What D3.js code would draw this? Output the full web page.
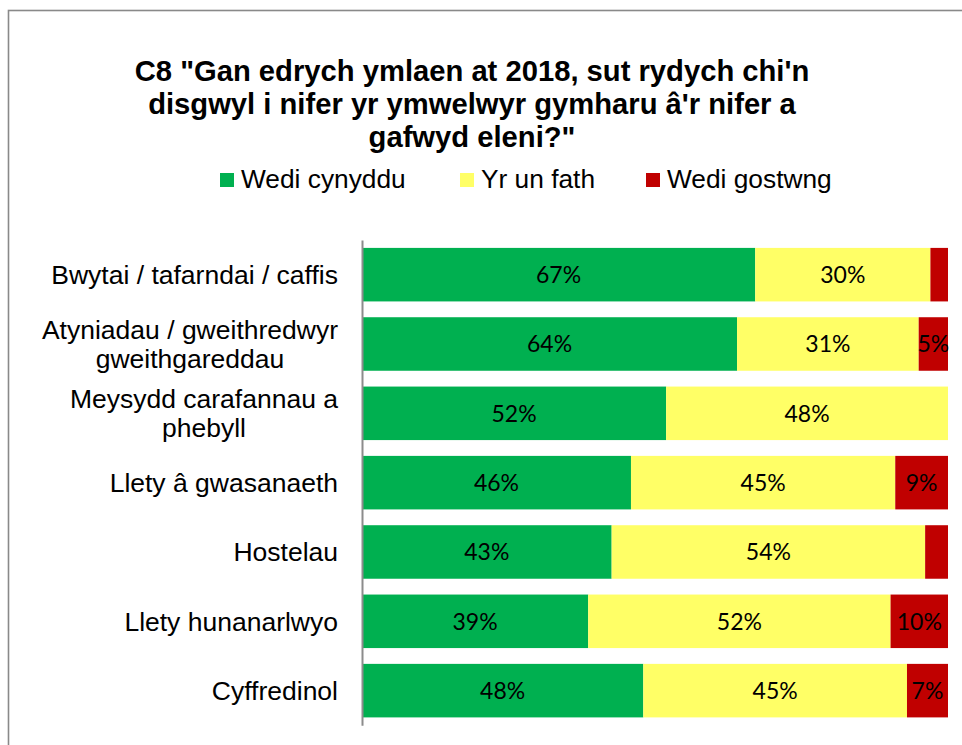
<!DOCTYPE html>
<html>
<head>
<meta charset="utf-8">
<script src="https://cdn.jsdelivr.net/npm/d3@7"></script>
<style>
  html, body { margin: 0; padding: 0; background: #fff; }
  svg { display: block; }
</style>
</head>
<body>
<svg id="chart" width="962" height="745"></svg>
<script>
// ---- data ----
const titleLines = ["C8 \"Gan edrych ymlaen at 2018, sut rydych chi'n",
                    "disgwyl i nifer yr ymwelwyr gymharu â'r nifer a",
                    "gafwyd eleni?\""];
const categories = [
  "Bwytai / tafarndai / caffis",
  "Atyniadau / gweithredwyr\ngweithgareddau",
  "Meysydd carafannau a\nphebyll",
  "Llety â gwasanaeth",
  "Hostelau",
  "Llety hunanarlwyo",
  "Cyffredinol"
];
const seriesNames = ["Wedi cynyddu", "Yr un fath", "Wedi gostwng"];
const increased = [67.1, 64.0, 51.9, 45.9, 42.6, 38.6, 48.0];
const same      = [29.9, 31.0, 48.1, 45.1, 53.5, 51.6, 45.0];
const decreased = [3.0, 5.0, 0, 9.0, 3.9, 9.8, 7.0];
const colors = ["#00B050", "#FFFF66", "#C00000"];

// ---- build table ----
const rows = categories.map((c, i) => ({
  cat: c, "Wedi cynyddu": increased[i], "Yr un fath": same[i], "Wedi gostwng": decreased[i]
}));
const stack = d3.stack().keys(seriesNames)(rows);

const svg = d3.select("#chart");

// chart border
svg.append("rect")
  .attr("x", 8.5).attr("y", 10.5).attr("width", 970).attr("height", 760)
  .attr("fill", "#fff").attr("stroke", "#898989").attr("stroke-width", 1.6);

// scales
const x = d3.scaleLinear().domain([0, 100]).range([362, 948]);
const y = d3.scaleBand().domain(categories).range([240, 725.3])
  .paddingInner(0.228).paddingOuter(0.114);
const color = d3.scaleOrdinal().domain(seriesNames).range(colors);

// title
svg.append("g").selectAll("text").data(titleLines).join("text")
  .attr("x", 472).attr("y", (d, i) => 81 + i * 33)
  .attr("text-anchor", "middle")
  .attr("font-family", "'Liberation Sans', Arial, sans-serif")
  .attr("font-weight", "bold").attr("font-size", 29.2)
  .attr("fill", "#000")
  .text(d => d);

// legend
const legendX = [220, 460, 646];
const lg = svg.append("g").selectAll("g").data(seriesNames).join("g")
  .attr("transform", (d, i) => `translate(${legendX[i]},173)`);
lg.append("rect").attr("width", 14).attr("height", 14).attr("fill", d => color(d));
lg.append("text").attr("x", 21).attr("y", 15)
  .attr("font-family", "'Liberation Sans', Arial, sans-serif")
  .attr("font-size", 26.3).attr("fill", "#000").text(d => d);

// bars
const layers = svg.append("g").selectAll("g").data(stack).join("g")
  .attr("fill", d => color(d.key));
layers.selectAll("rect").data(d => d).join("rect")
  .attr("x", d => x(d[0]))
  .attr("y", d => y(d.data.cat))
  .attr("width", d => x(d[1]) - x(d[0]))
  .attr("height", y.bandwidth());

// data labels
const fmt = d3.format(".0f");
layers.each(function(layer) {
  const key = layer.key;
  d3.select(this).selectAll("text").data(layer.filter(d => d.data[key] >= 4.5)).join("text")
    .attr("x", d => (x(d[0]) + x(d[1])) / 2)
    .attr("y", d => y(d.data.cat) + y.bandwidth() / 2)
    .attr("dy", "0.36em")
    .attr("text-anchor", "middle")
    .attr("font-family", "Lato, 'Open Sans', sans-serif")
    .attr("font-size", 23)
    .attr("fill", "#000")
    .text(d => fmt(d.data[key]) + "%");
});

// axis (category)
const labelSize = 26.5;
const axis = d3.axisLeft(y).tickSize(0).tickPadding(24);
const ag = svg.append("g").attr("transform", `translate(${x(0)},0)`).call(axis);
ag.select(".domain").attr("stroke", "#8c8c8c").attr("stroke-width", 2);
ag.selectAll(".tick text").each(function(d) {
  const t = d3.select(this);
  const lines = d.split("\n");
  t.text(null)
    .attr("font-family", "'Liberation Sans', Arial, sans-serif")
    .attr("font-size", labelSize).attr("fill", "#000")
    .attr("text-anchor", "middle");
  const lh = 29;
  const tmp = svg.append("text").attr("font-family", "'Liberation Sans', Arial, sans-serif").attr("font-size", labelSize);
  const widths = lines.map(l => { tmp.text(l); return tmp.node().getComputedTextLength(); });
  tmp.remove();
  const maxW = d3.max(widths);
  const cx = -24 - maxW / 2;
  t.attr("dy", null);
  lines.forEach((l, i) => {
    t.append("tspan").attr("x", cx)
      .attr("y", (i - (lines.length - 1) / 2) * lh)
      .attr("dy", "0.35em").text(l);
  });
});
</script>
</body>
</html>
